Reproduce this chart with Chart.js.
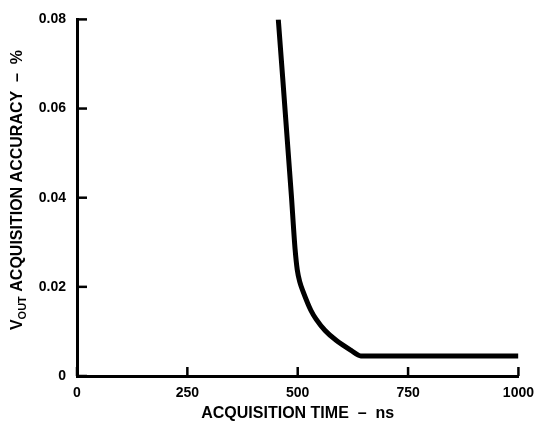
<!DOCTYPE html>
<html>
<head>
<meta charset="utf-8">
<script src="https://cdn.jsdelivr.net/npm/chart.js@4/dist/chart.umd.min.js"></script>
<style>
  html, body { margin: 0; padding: 0; background: #fff; }
  #wrap { width: 543px; height: 423px; }
</style>
</head>
<body>
<div id="wrap"><canvas id="accChart"></canvas></div>
<script>
// acquisition time (ns) and accuracy (%)
const timeNs = [456, 486, 490, 494, 499, 505, 512, 530, 542, 562, 587, 620, 643, 700, 800, 900, 1000];
const accuracy = [0.080, 0.040, 0.034, 0.0285, 0.0238, 0.0210, 0.0190, 0.0147, 0.0127, 0.0102, 0.0080, 0.0058, 0.0045, 0.0045, 0.0045, 0.0045, 0.0045];
const xTicks = [0, 250, 500, 750, 1000];
const yTicks = [0, 0.02, 0.04, 0.06, 0.08];

const FONT = "'Liberation Sans', Arial, sans-serif";

// inward tick marks + y title with subscript
const extras = {
  id: 'extras',
  afterDraw(chart) {
    const ctx = chart.ctx;
    const xs = chart.scales.x, ys = chart.scales.y;
    const a = chart.chartArea;
    ctx.save();
    ctx.strokeStyle = '#000';
    ctx.lineWidth = 2.5;
    xTicks.forEach(v => {
      const px = xs.getPixelForValue(v);
      ctx.beginPath(); ctx.moveTo(px, a.bottom); ctx.lineTo(px, a.bottom - 9); ctx.stroke();
    });
    yTicks.forEach(v => {
      const py = ys.getPixelForValue(v);
      ctx.beginPath(); ctx.moveTo(a.left, py); ctx.lineTo(a.left + 10, py); ctx.stroke();
    });

    // y title
    ctx.translate(22, 190);
    ctx.rotate(-Math.PI / 2);
    ctx.fillStyle = '#000';
    ctx.textBaseline = 'alphabetic';
    const big = 'bold 16px ' + FONT, small = 'bold 11px ' + FONT;
    const parts = [['V', big, 0], ['OUT', small, 4], [' ACQUISITION ACCURACY  \u2013  %', big, 0]];
    let total = 0;
    parts.forEach(p => { ctx.font = p[1]; total += ctx.measureText(p[0]).width; });
    let x = -total / 2;
    parts.forEach(p => {
      ctx.font = p[1];
      ctx.fillText(p[0], x, p[2]);
      x += ctx.measureText(p[0]).width;
    });
    ctx.restore();
  }
};

new Chart(document.getElementById('accChart').getContext('2d'), {
  type: 'line',
  data: {
    datasets: [{
      data: timeNs.map((t, i) => ({ x: t, y: accuracy[i] })),
      borderColor: '#000',
      borderWidth: 5,
      pointRadius: 0,
      fill: false,
      cubicInterpolationMode: 'monotone',
      borderCapStyle: 'butt'
    }]
  },
  options: {
    responsive: true,
    maintainAspectRatio: false,
    animation: false,
    layout: { padding: { left: 0, right: 21, top: 16, bottom: 0 } },
    plugins: { legend: { display: false }, tooltip: { enabled: false } },
    scales: {
      x: {
        type: 'linear',
        min: 0, max: 1000,
        afterBuildTicks: s => { s.ticks = xTicks.map(v => ({ value: v })); },
        afterFit: s => { s.height = 47; },
        grid: { drawOnChartArea: false, drawTicks: false },
        border: { color: '#000', width: 3 },
        ticks: {
          color: '#000', padding: 9, maxRotation: 0,
          font: { family: FONT, size: 14, weight: 'bold' },
          callback: v => String(v)
        },
        title: { display: true, text: 'ACQUISITION TIME  \u2013  ns', color: '#000', padding: { top: 0, bottom: 0 }, font: { family: FONT, size: 16, weight: 'bold' } }
      },
      y: {
        min: 0, max: 0.08,
        afterBuildTicks: s => { s.ticks = yTicks.map(v => ({ value: v })); },
        afterFit: s => { s.width = 77; },
        grid: { drawOnChartArea: false, drawTicks: false },
        border: { color: '#000', width: 3 },
        ticks: {
          color: '#000', padding: 11,
          font: { family: FONT, size: 14, weight: 'bold' },
          callback: v => v === 0 ? '0' : v.toFixed(2)
        }
      }
    }
  },
  plugins: [extras]
});
</script>
</body>
</html>
